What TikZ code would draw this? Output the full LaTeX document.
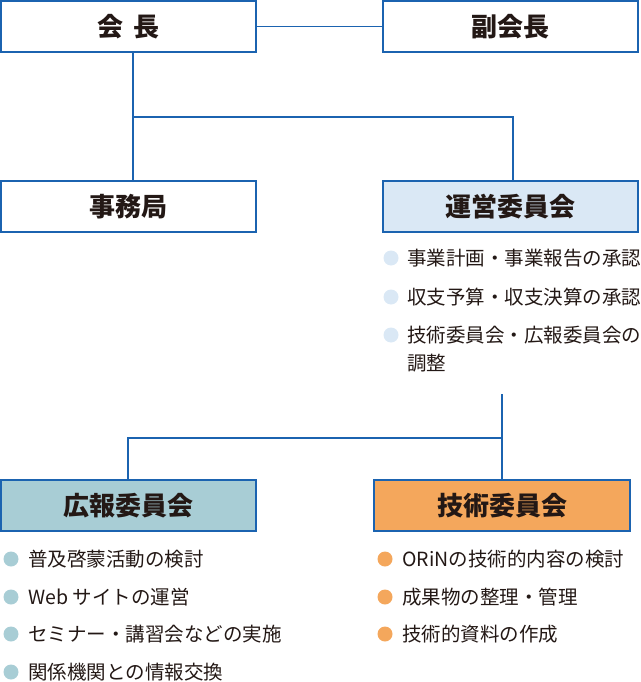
\documentclass[tikz,border=0pt]{standalone}
\usepackage{fontspec}
\setmainfont{Noto Sans CJK JP}
\definecolor{lineblue}{HTML}{1B63B0}
\definecolor{ink}{HTML}{231815}
\definecolor{paleblue}{HTML}{DAE8F5}
\definecolor{teal}{HTML}{A8CDD5}
\definecolor{orange}{HTML}{F4A75C}
\begin{document}
\begin{tikzpicture}[x=1pt,y=-1pt,
  box/.style={draw=lineblue, line width=1.8pt, rectangle, inner sep=0pt,
    minimum width=255pt, minimum height=51pt, text=ink,
    font=\fontsize{26}{30}\selectfont\bfseries},
  conn/.style={draw=lineblue, line width=1.6pt},
  dot/.style={circle, inner sep=0pt, minimum size=15pt},
  item/.style={anchor=west, inner sep=0pt, text=ink, font=\fontsize{19.5}{28}\selectfont}
]
\useasboundingbox (0,0) rectangle (640,682);
% boxes
\node[box] (kaicho) at (128.5,26.5) {会\hspace{0.35em}長};
\node[box] (fuku) at (510.5,26.5) {副会長};
\node[box] (jimu) at (128.5,206.5) {事務局};
\node[box, fill=paleblue] (unei) at (510.5,206.5) {運営委員会};
\node[box, fill=teal] (koho) at (128.5,505.5) {広報委員会};
\node[box, fill=orange, minimum width=256pt] (giju) at (502,505.5) {技術委員会};
% connectors
\coordinate (b1) at (133,117);
\coordinate (b2) at (502,438);
\coordinate (top2) at (502,394);
\draw[conn] (kaicho.east) -- (fuku.west);
\draw[conn] (kaicho.south -| b1) -- (jimu.north -| b1);
\draw[conn] (b1) -| ([xshift=2.5pt]unei.north);
\draw[conn] (top2) -- (giju.north);
\draw[conn] (b2) -| ([xshift=-0.5pt]koho.north);
% unei list
\node[dot, fill=paleblue] (u1) at (391,258) {};
\node[dot, fill=paleblue] (u2) at (391,297) {};
\node[dot, fill=paleblue] (u3) at (391,335) {};
\node[item] (tu1) at (407,258) {事業計画・事業報告の承認};
\node[item] (tu2) at (407,297) {収支予算・収支決算の承認};
\node[item] (tu3) at (407,335) {技術委員会・広報委員会の};
\node[item] (tu4) at (407,363) {調整};
% koho list
\node[dot, fill=teal] (k1) at (11,559) {};
\node[dot, fill=teal] (k2) at (11,597) {};
\node[dot, fill=teal] (k3) at (11,634) {};
\node[dot, fill=teal] (k4) at (11,672) {};
\node[item] (tk1) at (28,559) {普及啓蒙活動の検討};
\node[item] (tk2) at (28,597) {Web サイトの運営};
\node[item] (tk3) at (28,634) {セミナー・講習会などの実施};
\node[item] (tk4) at (28,672) {関係機関との情報交換};
% giju list
\node[dot, fill=orange] (g1) at (385,559) {};
\node[dot, fill=orange] (g2) at (385,597) {};
\node[dot, fill=orange] (g3) at (385,634) {};
\node[item] (tg1) at (402,559) {ORiNの技術的内容の検討};
\node[item] (tg2) at (402,597) {成果物の整理・管理};
\node[item] (tg3) at (402,634) {技術的資料の作成};
\end{tikzpicture}
\end{document}
